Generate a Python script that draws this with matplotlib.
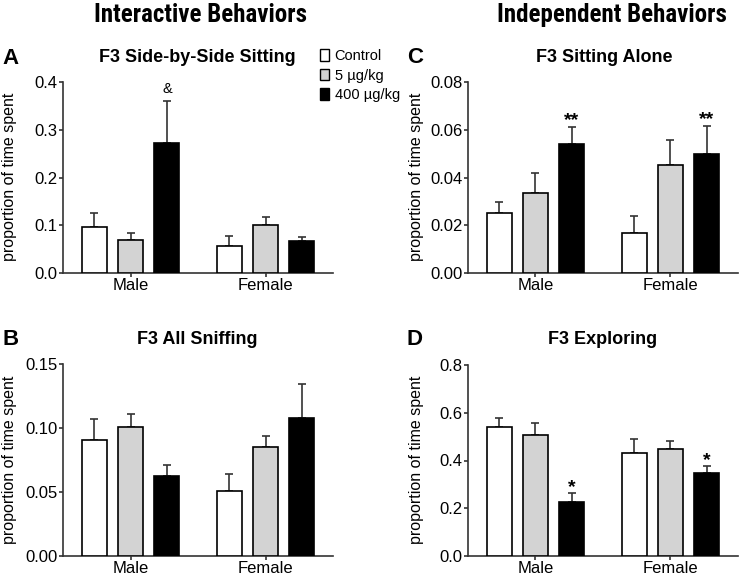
import matplotlib
matplotlib.use("Agg")
import matplotlib.pyplot as plt
from matplotlib.patches import Patch
import numpy as np

plt.rcParams['font.family'] = ['Liberation Sans', 'DejaVu Sans']

groups = ["Male", "Female"]
treatments = ["Control", "5 µg/kg", "400 µg/kg"]
colors = ["white", "#d3d3d3", "black"]

# Panel A: F3 Side-by-Side Sitting  (rows: treatment, cols: Male, Female)
a_mean = [[0.096, 0.056], [0.069, 0.100], [0.272, 0.067]]
a_sem = [[0.030, 0.022], [0.014, 0.018], [0.089, 0.009]]
a_ticks = [0.0, 0.1, 0.2, 0.3, 0.4]
a_ticklabels = ["0.0", "0.1", "0.2", "0.3", "0.4"]

# Panel B: F3 All Sniffing
b_mean = [[0.0908, 0.0511], [0.101, 0.0848], [0.0626, 0.1082]]
b_sem = [[0.0162, 0.0131], [0.010, 0.0093], [0.0086, 0.0258]]
b_ticks = [0.0, 0.05, 0.10, 0.15]
b_ticklabels = ["0.00", "0.05", "0.10", "0.15"]

# Panel C: F3 Sitting Alone
c_mean = [[0.025, 0.0166], [0.0334, 0.0451], [0.0542, 0.050]]
c_sem = [[0.0049, 0.0073], [0.0084, 0.0107], [0.0071, 0.0117]]
c_ticks = [0.0, 0.02, 0.04, 0.06, 0.08]
c_ticklabels = ["0.00", "0.02", "0.04", "0.06", "0.08"]

# Panel D: F3 Exploring
d_mean = [[0.542, 0.430], [0.506, 0.447], [0.226, 0.346]]
d_sem = [[0.037, 0.060], [0.051, 0.036], [0.0365, 0.030]]
d_ticks = [0.0, 0.2, 0.4, 0.6, 0.8]
d_ticklabels = ["0.0", "0.2", "0.4", "0.6", "0.8"]

# significance marks: (treatment index, group index, text)
a_sig = [(2, 0, "&")]
b_sig = []
c_sig = [(2, 0, "**"), (2, 1, "**")]
d_sig = [(2, 0, "*"), (2, 1, "*")]

W, H = 739, 575
fig = plt.figure(figsize=(W / 100, H / 100), dpi=100)

def px_axes(left, right, top, bottom):
    return fig.add_axes([left / W, 1 - bottom / H, (right - left) / W, (bottom - top) / H])

spine_c = "#333333"

def draw_panel(ax, means, sems, ticks, ticklabels, sigs):
    xg = np.arange(len(groups))
    offs = [-0.27, 0.0, 0.27]
    bw = 0.185
    for i in range(3):
        xs = xg + offs[i]
        ax.bar(xs, means[i], width=bw, color=colors[i], edgecolor="black",
               linewidth=1.2, zorder=3)
        ax.errorbar(xs, means[i], yerr=[[0] * len(groups), sems[i]], fmt="none",
                    ecolor=spine_c, elinewidth=1.2, capsize=2.6, capthick=1.2, zorder=2)
    for (ti, gi, txt) in sigs:
        top = means[ti][gi] + sems[ti][gi]
        if txt == "&":
            ax.annotate(txt, (xg[gi] + offs[ti], top), xytext=(0, 3),
                        textcoords="offset points", ha="center", va="bottom", fontsize=10.5)
        else:
            ax.annotate(txt, (xg[gi] + offs[ti], top), xytext=(0, -2),
                        textcoords="offset points", ha="center", va="bottom",
                        fontsize=14, fontweight="bold")
    ax.set_xlim(-0.5, 1.5)
    ax.set_ylim(ticks[0], ticks[-1])
    ax.set_yticks(ticks)
    ax.set_yticklabels(ticklabels)
    ax.set_xticks(xg)
    ax.set_xticklabels(groups)
    for s in ["top", "right"]:
        ax.spines[s].set_visible(False)
    for s in ["left", "bottom"]:
        ax.spines[s].set_linewidth(1.2)
        ax.spines[s].set_color(spine_c)
    ax.tick_params(axis="both", length=3, width=1.2, color=spine_c, labelsize=12, pad=1)
    ax.tick_params(axis="x", pad=0.5)

axA = px_axes(63, 333, 82, 273)
axC = px_axes(468, 738, 82, 273)
axB = px_axes(63, 333, 364, 556)
axD = px_axes(468, 738, 365, 556)

draw_panel(axA, a_mean, a_sem, a_ticks, a_ticklabels, a_sig)
draw_panel(axB, b_mean, b_sem, b_ticks, b_ticklabels, b_sig)
draw_panel(axC, c_mean, c_sem, c_ticks, c_ticklabels, c_sig)
draw_panel(axD, d_mean, d_sem, d_ticks, d_ticklabels, d_sig)

def ftext(x, y, s, **kw):
    fig.text(x / W, 1 - y / H, s, **kw)

# column headers
hdr_family = ["Roboto Condensed", "Liberation Sans", "DejaVu Sans"]
ftext(200, 22, "Interactive Behaviors", ha="center", va="baseline", fontsize=18,
      fontweight="bold", family=hdr_family)
ftext(612, 22, "Independent Behaviors", ha="center", va="baseline", fontsize=18,
      fontweight="bold", family=hdr_family)

# panel titles
ftext(197, 62, "F3 Side-by-Side Sitting", ha="center", va="baseline", fontsize=13, fontweight="bold")
ftext(604, 62, "F3 Sitting Alone", ha="center", va="baseline", fontsize=13, fontweight="bold")
ftext(197, 344, "F3 All Sniffing", ha="center", va="baseline", fontsize=13, fontweight="bold")
ftext(603, 344, "F3 Exploring", ha="center", va="baseline", fontsize=13, fontweight="bold")

# panel letters
ftext(2, 64, "A", ha="left", va="baseline", fontsize=16, fontweight="bold")
ftext(407, 63, "C", ha="left", va="baseline", fontsize=16, fontweight="bold")
ftext(2, 345, "B", ha="left", va="baseline", fontsize=16, fontweight="bold")
ftext(407, 345, "D", ha="left", va="baseline", fontsize=16, fontweight="bold")

# y labels
ylab = "proportion of time spent"
ftext(10, 177, ylab, ha="center", va="center", rotation=90, fontsize=11.5)
ftext(417, 177, ylab, ha="center", va="center", rotation=90, fontsize=11.5)
ftext(10, 460, ylab, ha="center", va="center", rotation=90, fontsize=11.5)
ftext(417, 460, ylab, ha="center", va="center", rotation=90, fontsize=11.5)

# legend
handles = [Patch(facecolor=c, edgecolor="black", linewidth=1.0) for c in colors]
fig.legend(handles, treatments, loc="upper left", bbox_to_anchor=(320 / W, 1 - 49 / H),
           frameon=False, fontsize=10.5, handlelength=0.6, handleheight=0.85,
           handletextpad=0.4, labelspacing=0.38, borderaxespad=0, borderpad=0)

fig.savefig("out.png", dpi=100)
